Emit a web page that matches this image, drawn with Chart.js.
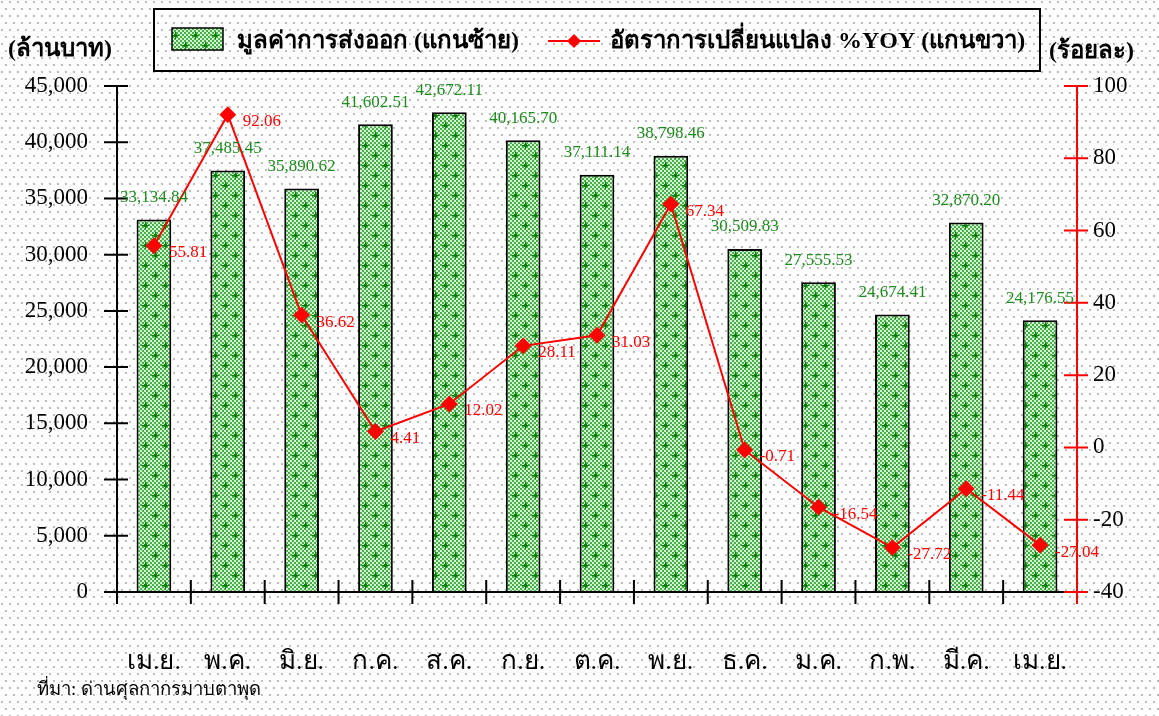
<!DOCTYPE html>
<html>
<head>
<meta charset="utf-8">
<script src="https://cdn.jsdelivr.net/npm/chart.js@4.4.1/dist/chart.umd.min.js"></script>
<style>
html, body { margin: 0; padding: 0; background: #fff; }
</style>
</head>
<body>
<canvas id="myChart" width="1159" height="716"></canvas>
<script>
// data
const months = ['เม.ย.', 'พ.ค.', 'มิ.ย.', 'ก.ค.', 'ส.ค.', 'ก.ย.', 'ต.ค.', 'พ.ย.', 'ธ.ค.', 'ม.ค.', 'ก.พ.', 'มี.ค.', 'เม.ย.']
const exportValues = [33134.84, 37485.45, 35890.62, 41602.51, 42672.11, 40165.70, 37111.14, 38798.46, 30509.83, 27555.53, 24674.41, 32870.20, 24176.55]
const yoyValues = [55.81, 92.06, 36.62, 4.41, 12.02, 28.11, 31.03, 67.34, -0.71, -16.54, -27.72, -11.44, -27.04]

const leftMin = 0, leftMax = 45000, leftStep = 5000
const rightMin = -40, rightMax = 100, rightStep = 20

const barLabel = 'มูลค่าการส่งออก (แกนซ้าย)'
const lineLabel = 'อัตราการเปลี่ยนแปลง %YOY (แกนขวา)'
const leftTitle = '(ล้านบาท)'
const rightTitle = '(ร้อยละ)'
const sourceText = 'ที่มา: ด่านศุลกากรมาบตาพุด'

const serif = '"Liberation Serif", "Times New Roman", serif'

const ctx = document.getElementById('myChart').getContext('2d')

// dotted page background, staggered rows
function dotPattern() {
    const c = document.createElement('canvas')
    c.width = 8; c.height = 14
    const g = c.getContext('2d')
    g.fillStyle = '#ffffff'
    g.fillRect(0, 0, 8, 14)
    g.fillStyle = '#bcbcbc'
    g.fillRect(1, 1, 2, 2)
    g.fillRect(5, 8, 2, 2)
    return ctx.createPattern(c, 'repeat')
}

// green checker with dark plus marks, like the bars
function barPattern() {
    const c = document.createElement('canvas')
    c.width = 20; c.height = 20
    const g = c.getContext('2d')
    g.fillStyle = '#45b045'
    g.fillRect(0, 0, 20, 20)
    g.fillStyle = '#d6f4d6'
    for (let y = 0; y < 20; y += 2) {
        for (let x = (y / 2) % 2 ? 0 : 2; x < 20; x += 4) g.fillRect(x, y, 2, 2)
    }
    g.fillStyle = '#0a7d0a'
    const plus = (x, y) => {
        g.fillRect(x - 3, y, 7, 1)
        g.fillRect(x, y - 3, 1, 7)
        g.fillRect(x - 1, y - 1, 3, 3)
    }
    plus(5, 5)
    plus(15, 15)
    return ctx.createPattern(c, 'repeat')
}

const bgFill = dotPattern()
const barFill = barPattern()

const fmt = v => v.toLocaleString('en-US', {minimumFractionDigits: 2, maximumFractionDigits: 2})

const background = {
    id: 'background',
    beforeDraw(chart) {
        const c = chart.ctx
        c.save()
        c.fillStyle = bgFill
        c.fillRect(0, 0, chart.width, chart.height)
        c.restore()
    }
}

// axis lines with ticks that cross the line
const axes = {
    id: 'axes',
    afterDatasetsDraw(chart) {
        const c = chart.ctx
        const {x, y, y1} = chart.scales
        const area = chart.chartArea
        c.save()
        c.lineWidth = 2
        c.strokeStyle = '#000'
        c.beginPath()
        c.moveTo(area.left, area.top); c.lineTo(area.left, area.bottom + 12)
        c.moveTo(area.left - 13, area.bottom); c.lineTo(area.right, area.bottom)
        y.ticks.forEach(t => {
            const py = y.getPixelForValue(t.value)
            c.moveTo(area.left - 13, py); c.lineTo(area.left + 11, py)
        })
        for (let i = 0; i <= months.length; i++) {
            const px = x.getPixelForValue(i - 0.5)
            c.moveTo(px, area.bottom - 12); c.lineTo(px, area.bottom + 12)
        }
        c.stroke()
        c.strokeStyle = '#ff0000'
        c.beginPath()
        c.moveTo(area.right, area.top); c.lineTo(area.right, area.bottom + 12)
        y1.ticks.forEach(t => {
            const py = y1.getPixelForValue(t.value)
            c.moveTo(area.right - 13, py); c.lineTo(area.right + 11, py)
        })
        c.stroke()
        c.restore()
    }
}

const valueLabels = {
    id: 'valueLabels',
    afterDatasetsDraw(chart) {
        const c = chart.ctx
        const lineMeta = chart.getDatasetMeta(0)
        const barMeta = chart.getDatasetMeta(1)
        c.save()
        c.font = '17px ' + serif
        c.textBaseline = 'middle'
        c.textAlign = 'center'
        c.fillStyle = '#1e8c1e'
        barMeta.data.forEach((bar, i) => c.fillText(fmt(exportValues[i]), bar.x, bar.y - 22))
        c.textAlign = 'left'
        c.fillStyle = '#ff0000'
        lineMeta.data.forEach((pt, i) => c.fillText(yoyValues[i].toFixed(2), pt.x + 15, pt.y + 7))
        c.restore()
    }
}

const legendAndTitles = {
    id: 'legendAndTitles',
    afterDraw(chart) {
        const c = chart.ctx
        c.save()
        // legend box
        c.lineWidth = 2
        c.strokeStyle = '#000'
        c.strokeRect(154, 9, 886, 62)
        c.fillStyle = barFill
        c.fillRect(172, 28, 51, 22)
        c.lineWidth = 1.5
        c.strokeRect(172, 28, 51, 22)
        c.font = 'bold 24px ' + serif
        c.textBaseline = 'middle'
        c.textAlign = 'left'
        c.fillStyle = '#000'
        c.fillText(chart.data.datasets[1].label, 237, 42)
        c.strokeStyle = '#ff0000'
        c.lineWidth = 2
        c.beginPath()
        c.moveTo(548, 41); c.lineTo(600, 41)
        c.stroke()
        c.fillStyle = '#ff0000'
        c.beginPath()
        c.moveTo(574, 34); c.lineTo(581, 41); c.lineTo(574, 48); c.lineTo(567, 41)
        c.closePath()
        c.fill()
        c.fillStyle = '#000'
        c.fillText(chart.data.datasets[0].label, 610, 42)
        // axis titles
        c.fillText(leftTitle, 8, 50)
        c.fillText(rightTitle, 1049, 52)
        // source
        c.font = '18.5px ' + serif
        c.fillText(sourceText, 37, 690)
        c.restore()
    }
}

const chart = new Chart(ctx, {
    type: 'bar',
    data: {
        labels: months,
        datasets: [{
            type: 'line',
            label: lineLabel,
            data: yoyValues,
            yAxisID: 'y1',
            borderColor: '#ff0000',
            backgroundColor: '#ff0000',
            borderWidth: 2,
            pointStyle: 'rectRot',
            pointRadius: 7,
            pointHoverRadius: 7,
            tension: 0,
            order: 0,
        }, {
            type: 'bar',
            label: barLabel,
            data: exportValues,
            yAxisID: 'y',
            backgroundColor: barFill,
            borderColor: '#000',
            borderWidth: 2,
            barPercentage: 0.47,
            categoryPercentage: 1,
            order: 1,
        }]
    },
    options: {
        responsive: false,
        animation: false,
        devicePixelRatio: 1,
        layout: {padding: {top: 86, left: 0, right: 0, bottom: 0}},
        plugins: {
            legend: {display: false},
            tooltip: {enabled: false},
        },
        scales: {
            x: {
                offset: true,
                grid: {display: false, drawTicks: true, tickLength: 12},
                border: {display: false},
                ticks: {font: {family: serif, size: 26}, color: '#000', padding: 43, maxRotation: 0, autoSkip: false},
                afterFit: s => { s.height = 124 },
            },
            y: {
                position: 'left',
                min: leftMin,
                max: leftMax,
                grid: {display: false, drawTicks: true, tickLength: 13},
                border: {display: false},
                ticks: {stepSize: leftStep, font: {family: serif, size: 23}, color: '#000', padding: 16,
                    callback: v => v.toLocaleString('en-US')},
                afterFit: s => { s.width = 117 },
            },
            y1: {
                position: 'right',
                min: rightMin,
                max: rightMax,
                grid: {display: false, drawTicks: true, tickLength: 11},
                border: {display: false},
                ticks: {stepSize: rightStep, font: {family: serif, size: 23}, color: '#000', padding: 5},
                afterFit: s => { s.width = 82 },
            }
        }
    },
    plugins: [background, axes, valueLabels, legendAndTitles]
})
</script>
</body>
</html>
